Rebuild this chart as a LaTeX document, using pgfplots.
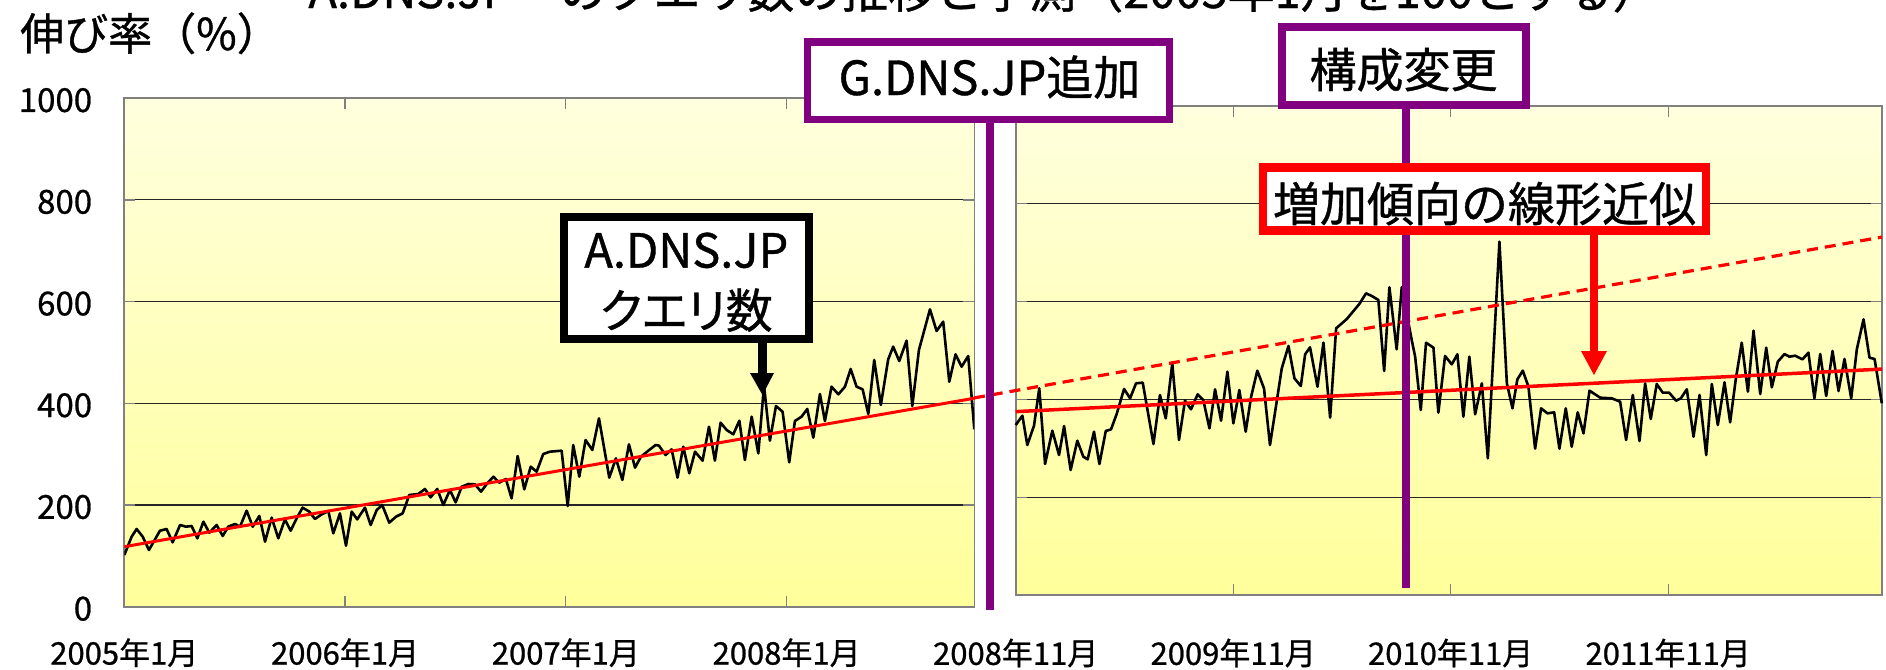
\documentclass[border=0pt]{standalone}
\usepackage{pgfplots}
\pgfplotsset{compat=1.18}
\usepackage{fontspec}
\setmainfont{Noto Sans CJK JP}[FakeBold=0.8]
\newfontfamily\jpp{Noto Sans CJK JP}[RawFeature=+palt, FakeBold=0.8]
\definecolor{bgtop}{RGB}{255,255,222}
\definecolor{bgbot}{RGB}{255,255,155}
\definecolor{dpurple}{RGB}{128,0,128}
\newcommand{\fs}[1]{\fontsize{#1bp}{#1bp}\selectfont}

\begin{document}
\begin{tikzpicture}
\pgfplotsset{
  panel/.style={
    scale only axis,
    ymin=0, ymax=1000,
    ytick={0,200,400,600,800,1000},
    ymajorgrids,
    grid style={black!85, line width=1.1bp},
    axis line style={gray, line width=1.6bp},
    tick style={gray, line width=1.2bp},
    tick align=inside,
    major tick length=11bp,
    axis background/.style={top color=bgtop, bottom color=bgbot},
    /pgf/number format/assume math mode=true,
    ticklabel style={font=\fs{31}},
  },
}
\begin{axis}[panel, at={(124.3bp,-606.7bp)}, anchor=south west,
  width=850bp, height=508.5bp,
  xmin=0, xmax=46.2, xtick={0,12,24,36},
  xticklabels={2005年1月,2006年1月,2007年1月,2008年1月},
  xticklabel style={anchor=center, yshift=-46bp},
  yticklabels={0,200,400,600,800,1000},
  yticklabel style={anchor=east, inner sep=0pt, xshift=-32bp, yshift=-2bp, font=\fs{33}},
]
\addplot[black, line width=2.6bp, line join=round] coordinates {
(0.00,101.7) (0.40,137.7) (0.67,152.8) (1.00,137.7) (1.34,111.5) (1.67,132.5)
(1.94,149.5) (2.30,152.8) (2.63,126.6) (3.03,160.7) (3.35,157.4) (3.66,158.7)
(3.97,134.5) (4.30,167.2) (4.62,145.6) (5.02,160.7) (5.35,139.0) (5.65,157.4)
(6.02,162.6) (6.29,157.4) (6.65,188.9) (6.98,157.4) (7.34,178.4) (7.65,127.9)
(8.01,175.1) (8.37,134.5) (8.73,171.8) (9.04,149.5) (9.37,173.8) (9.69,194.8)
(10.06,186.9) (10.36,172.5) (10.73,181.7) (11.09,188.2) (11.36,144.3) (11.72,183.6)
(12.05,120.0) (12.36,186.9) (12.66,171.8) (13.08,194.8) (13.39,160.7) (13.72,190.2)
(14.02,200.0) (14.40,165.3) (14.77,177.1) (15.13,183.6) (15.49,219.7) (15.98,221.6)
(16.34,231.5) (16.65,215.1) (17.01,231.5) (17.34,200.0) (17.70,229.5) (18.01,205.2)
(18.34,236.0) (18.70,241.3) (19.06,240.6) (19.39,226.2) (19.73,242.6) (20.06,255.7)
(20.38,243.9) (20.74,251.1) (21.05,213.1) (21.38,296.4) (21.74,230.8) (22.09,275.4)
(22.41,265.5) (22.77,300.3) (23.14,304.9) (23.77,306.8) (24.10,198.0) (24.40,318.0)
(24.73,255.7) (25.07,327.8) (25.44,308.2) (25.80,370.4) (26.36,253.8) (26.72,291.8)
(27.07,249.2) (27.43,319.3) (27.76,273.4) (28.08,295.0) (28.53,308.2) (28.88,318.0)
(29.06,316.7) (29.42,298.3) (29.75,309.5) (30.07,253.8) (30.38,314.7) (30.71,262.3)
(31.02,304.9) (31.43,287.2) (31.78,354.0) (32.10,287.2) (32.41,361.9) (32.74,347.5)
(33.10,339.0) (33.43,365.8) (33.73,288.5) (34.10,373.7) (34.46,301.6) (34.77,435.0)
(35.09,326.5) (35.42,394.7) (35.78,383.5) (36.14,283.9) (36.45,365.2) (36.81,373.7)
(37.12,388.8) (37.45,332.4) (37.81,418.3) (38.08,365.2) (38.44,432.7) (38.81,417.6)
(39.17,432.7) (39.48,467.5) (39.80,432.7) (40.13,427.5) (40.44,379.0) (40.76,485.2)
(41.12,396.7) (41.52,486.5) (41.79,511.4) (42.12,483.2) (42.52,523.2) (42.83,394.7)
(43.19,504.8) (43.79,584.8) (44.15,542.2) (44.51,560.5) (44.84,442.5) (45.18,496.3)
(45.51,472.0) (45.87,493.0) (46.20,348.8)
};
\addplot[red, line width=3bp] coordinates {(0,118) (46.2,410)};
\end{axis}

\begin{axis}[panel, at={(1015.7bp,-595bp)}, anchor=south west,
  width=866.3bp, height=489bp, clip=false,
  xmin=46, xmax=93.8, xtick={46,58,70,82},
  xticklabels={2008年11月,2009年11月,2010年11月,2011年11月},
  xticklabel style={anchor=center, yshift=-58bp},
  yticklabels={},
]
\addplot[black, line width=2.6bp, line join=round] coordinates {
(46.00,347.6) (46.37,366.7) (46.64,306.7) (47.01,346.3) (47.30,422.6) (47.62,267.9)
(48.02,336.1) (48.39,286.3) (48.67,345.6) (49.03,255.6) (49.40,315.6) (49.73,282.9)
(49.97,277.4) (50.32,334.0) (50.62,267.9) (50.97,335.4) (51.26,338.8) (51.57,370.1)
(51.98,421.3) (52.31,402.2) (52.64,432.9) (53.01,434.2) (53.60,308.8) (53.96,409.0)
(54.28,361.3) (54.64,473.8) (55.01,317.0) (55.34,397.4) (55.67,379.7) (56.04,410.4)
(56.35,398.8) (56.69,340.8) (57.00,420.6) (57.33,356.5) (57.68,456.7) (58.01,351.1)
(58.34,419.2) (58.69,334.0) (58.99,405.6) (59.33,458.8) (59.70,422.6) (60.03,306.7)
(60.40,395.4) (60.68,463.5) (61.05,509.2) (61.38,443.1) (61.73,427.4) (61.97,492.2)
(62.24,506.5) (62.65,426.0) (62.98,516.0) (63.35,362.6) (63.68,545.3) (64.27,564.4)
(64.96,595.1) (65.33,616.9) (65.65,611.5) (66.01,603.3) (66.33,458.1) (66.62,629.2)
(67.02,502.4) (67.30,629.2) (67.85,521.5) (68.04,487.4) (68.35,378.3) (68.64,516.0)
(69.05,505.8) (69.32,372.9) (69.69,488.8) (70.06,471.7) (70.37,492.2) (70.70,364.7)
(71.03,487.4) (71.35,369.5) (71.72,432.9) (72.05,279.5) (72.69,722.6) (73.10,432.9)
(73.41,381.7) (73.68,441.0) (73.98,458.8) (74.29,426.0) (74.66,299.2) (74.99,381.7)
(75.34,371.5) (75.71,373.6) (76.00,299.2) (76.35,381.7) (76.68,303.3) (77.01,373.6)
(77.33,330.6) (77.66,417.9) (78.25,403.5) (78.89,402.2) (79.35,395.4) (79.68,317.0)
(80.05,409.0) (80.42,314.9) (80.73,432.9) (81.04,359.9) (81.37,431.5) (81.70,413.8)
(82.05,413.8) (82.44,397.4) (82.70,402.2) (83.03,420.6) (83.40,323.8) (83.73,409.0)
(84.10,286.3) (84.41,431.5) (84.74,347.6) (85.11,434.9) (85.42,353.1) (85.73,441.0)
(86.06,516.0) (86.40,415.8) (86.71,540.6) (87.08,411.0) (87.41,505.8) (87.72,424.7)
(88.05,477.2) (88.42,492.8) (88.69,487.4) (89.01,489.4) (89.41,481.9) (89.74,495.6)
(90.07,402.2) (90.39,492.8) (90.72,407.0) (91.07,499.0) (91.40,417.2) (91.73,482.6)
(92.10,402.2) (92.41,502.4) (92.78,563.7) (93.11,485.3) (93.39,482.6) (93.79,392.0)
};
\addplot[red, line width=3.5bp] coordinates {(46,375) (93.8,462)};
\addplot[red, line width=3.2bp, dash pattern=on 11bp off 7bp] coordinates {(43.7,403) (93.8,732)};
\end{axis}

\begin{scope}[x=1bp, y=-1bp]
% title (cut off at the top of the picture, as in the reference)
\node[anchor=base, inner sep=0] at (984,8) {\fs{47}A.DNS.JP　のクエリ数の推移と予測（2005年1月を100とする）};
% y label
\node[anchor=base west, inner sep=0] at (20,50) {\fs{44}伸び率（\%）};
% purple event lines
\draw[dpurple, line width=8bp] (990,119) -- (990,610);
\draw[dpurple, line width=8bp] (1406,105) -- (1406,588);
% G.DNS.JP box
\draw[dpurple, line width=7.5bp, fill=white] (807.5,42) rectangle (1169.5,119.3);
\node[anchor=base, inner sep=0] at (989.5,95) {\fs{47}G.DNS.JP追加};
% kousei henkou box
\draw[dpurple, line width=8bp, fill=white] (1282,27.3) rectangle (1526,105);
\node[anchor=base, inner sep=0] at (1403.5,87.4) {\fs{47}構成変更};
% A.DNS.JP box and arrow
\draw[black, line width=8bp, fill=white] (564,217) rectangle (808.7,338.5);
\node[anchor=base, inner sep=0] at (686.3,267.6) {\fs{47}A.DNS.JP};
\node[anchor=base, inner sep=0] at (686.3,328) {\fs{47}\jpp クエリ数};
\fill[black] (758,342) rectangle (767,374);
\fill[black] (750,373) -- (774,373) -- (762.5,395) -- cycle;
% red box and arrow
\draw[red, line width=8.4bp, fill=white] (1263,167.5) rectangle (1705.8,230.6);
\node[anchor=base, inner sep=0] at (1484.5,221.4) {\fs{47}増加傾向の線形近似};
\fill[red] (1590.3,234) rectangle (1597.7,352);
\fill[red] (1581,351) -- (1607,351) -- (1594,375) -- cycle;
\end{scope}

\pgfresetboundingbox
\path[use as bounding box] (0bp,0bp) rectangle (1886bp,-670bp);
\end{tikzpicture}
\end{document}
